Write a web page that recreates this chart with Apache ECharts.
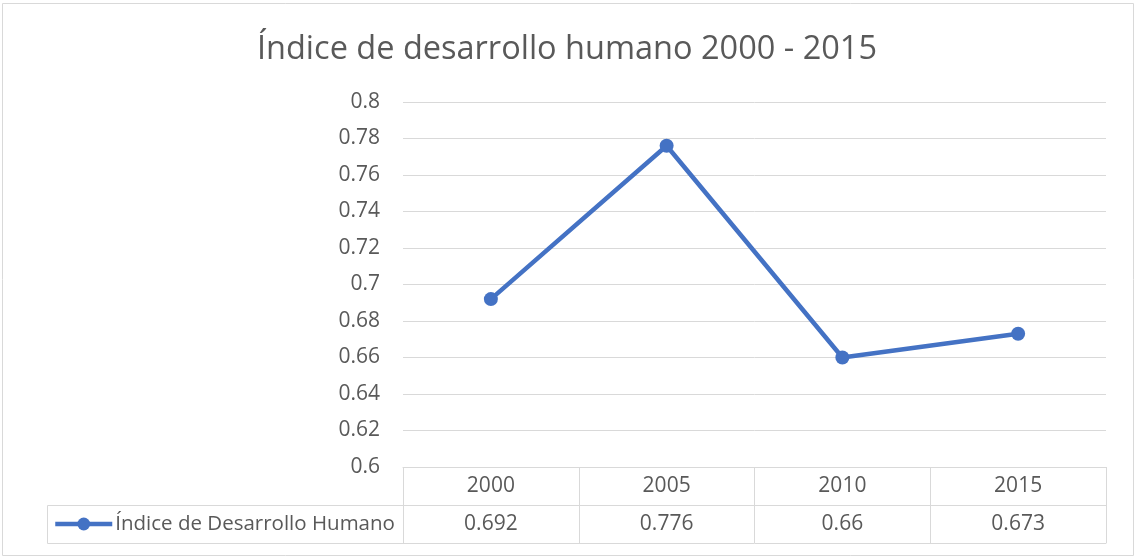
<!DOCTYPE html>
<html>
<head>
<meta charset="utf-8">
<script src="https://cdn.jsdelivr.net/npm/echarts@6/dist/echarts.min.js"></script>
<style>
  html, body { margin: 0; padding: 0; background: #fff; }
  #chart { width: 1134px; height: 557px; }
</style>
</head>
<body>
<div id="chart"></div>
<script>
var years = ["2000", "2005", "2010", "2015"];
var idhValues = [0.692, 0.776, 0.66, 0.673];
var seriesName = "Índice de Desarrollo Humano";
var chartTitle = "Índice de desarrollo humano 2000 - 2015";

var textColor = "#595959";
var borderColor = "#d9d9d9";
var lineColor = "#4472C4";
var font = "'Open Sans', sans-serif";

var chart = echarts.init(document.getElementById("chart"));
var option = {
  animation: false,
  textStyle: { fontFamily: font },
  title: {
    text: chartTitle,
    left: "center",
    top: 28,
    textStyle: { fontSize: 32.5, fontWeight: "normal", color: textColor, fontFamily: font }
  },
  legend: {
    data: [seriesName],
    left: 53,
    top: 513,
    padding: 0,
    itemWidth: 57,
    itemHeight: 16,
    itemGap: 0,
    lineStyle: { width: 4.5 },
    textStyle: { fontSize: 20.5, color: textColor, fontFamily: font, lineHeight: 22, padding: [0, 0, 0, -2] }
  },
  graphic: [
    {
      type: "rect",
      shape: { x: 2.5, y: 3.5, width: 1131, height: 552 },
      style: { fill: "none", stroke: borderColor, lineWidth: 1 },
      silent: true
    },
    {
      type: "rect",
      shape: { x: 47.5, y: 505.5, width: 356, height: 38 },
      style: { fill: "none", stroke: borderColor, lineWidth: 1 },
      silent: true
    }
  ],
  grid: { left: 403, right: 28, top: 102, bottom: 90 },
  xAxis: [
    {
      type: "category",
      data: years,
      position: "bottom",
      boundaryGap: true,
      axisLine: { show: true, lineStyle: { color: borderColor, width: 1 } },
      axisTick: { show: true, length: 76, lineStyle: { color: borderColor, width: 1 } },
      axisLabel: { fontSize: 21, color: textColor, margin: 8, lineHeight: 22 },
      splitLine: { show: false }
    },
    {
      type: "category",
      data: idhValues.map(function (v) { return String(v); }),
      position: "bottom",
      offset: 38,
      axisLine: { show: true, lineStyle: { color: borderColor, width: 1 } },
      axisTick: { show: false },
      axisLabel: { fontSize: 21, color: textColor, margin: 8, lineHeight: 22 }
    },
    {
      type: "category",
      data: years,
      position: "bottom",
      offset: 76,
      axisLine: { show: true, lineStyle: { color: borderColor, width: 1 } },
      axisTick: { show: false },
      axisLabel: { show: false }
    }
  ],
  yAxis: {
    type: "value",
    min: 0.6,
    max: 0.8,
    interval: 0.02,
    axisLine: { show: false },
    axisTick: { show: false },
    axisLabel: { fontSize: 21, color: textColor, margin: 23 },
    splitLine: { lineStyle: { color: borderColor, width: 1 } }
  },
  series: [
    {
      name: seriesName,
      type: "line",
      xAxisIndex: 0,
      data: idhValues,
      symbol: "circle",
      symbolSize: 14,
      itemStyle: { color: lineColor },
      lineStyle: { color: lineColor, width: 4.5 }
    }
  ]
};
chart.setOption(option);
</script>
</body>
</html>
